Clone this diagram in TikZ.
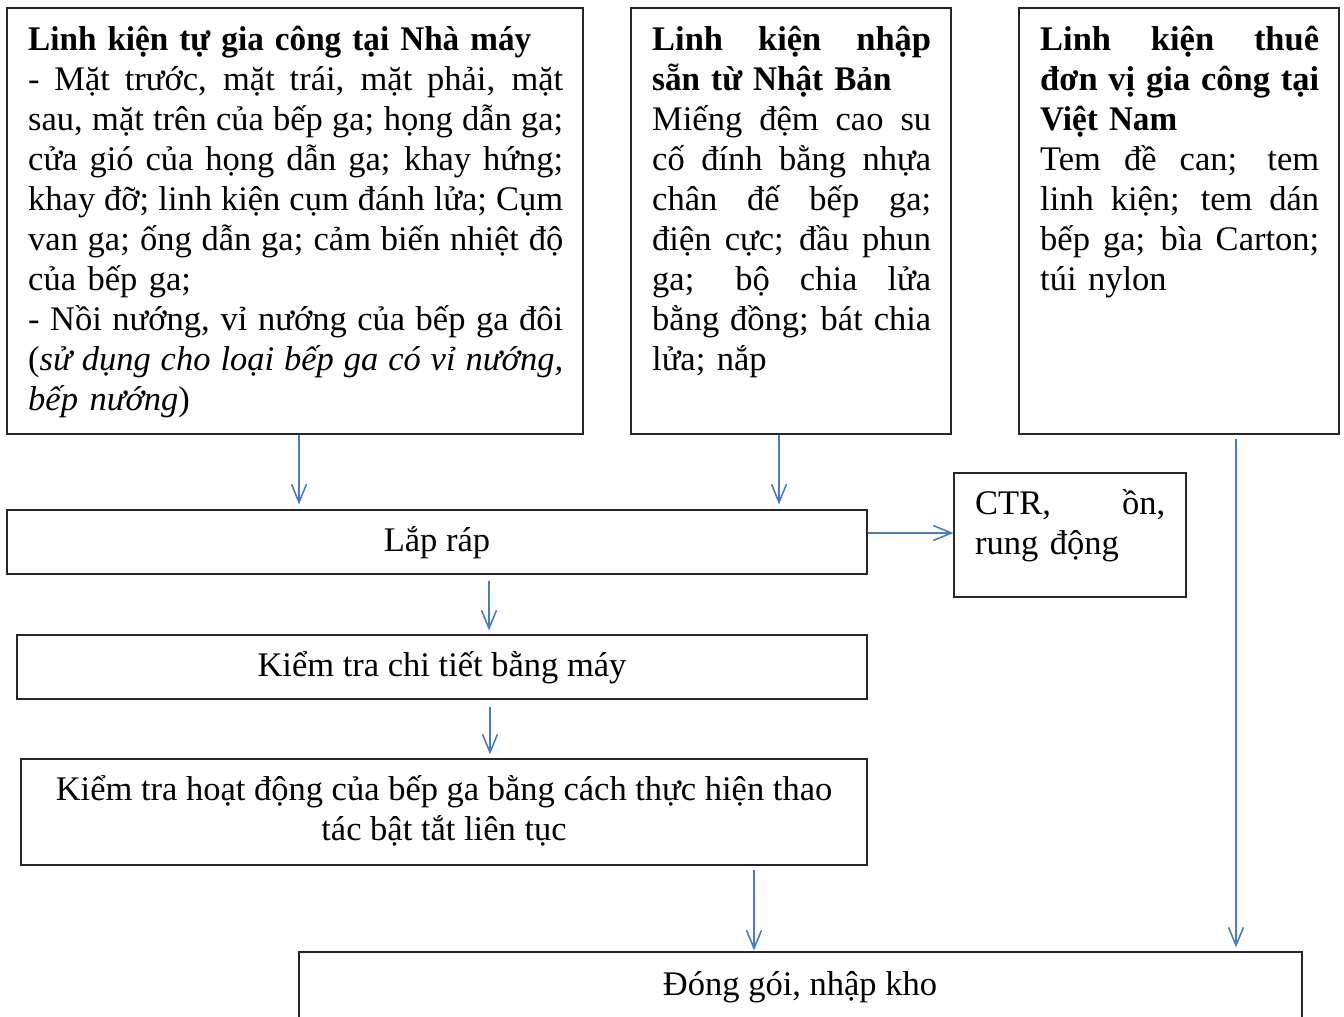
\documentclass[tikz,border=0pt]{standalone}
\usepackage{fontspec}
\setmainfont{Liberation Serif}
\usetikzlibrary{arrows.meta}
\definecolor{arrowblue}{HTML}{4A7EBB}
\newcommand\fsz{\fontsize{34.5pt}{40pt}\selectfont}
\newcommand\jl[2]{\leavevmode{\spaceskip=0.25em plus 1fil minus 0.1em\xspaceskip=\spaceskip\hbox to #1{#2}}}
\newcommand\bx[1]{\scalebox{0.962}[1]{\textbf{#1}}}
\begin{document}
\begin{tikzpicture}[x=1pt,y=-1pt,
  box/.style={draw=black!85, line width=1.2pt, inner sep=0pt},
  txt/.style={inner sep=0pt, anchor=north west, align=left, font=\fsz},
  ctxt/.style={inner sep=0pt, align=center, font=\fsz},
  arr/.style={draw=arrowblue, line width=1.6pt, -{Straight Barb[length=18pt,width=15pt]}}]
\path[use as bounding box] (0,0) rectangle (1344,1017);
\clip (0,0) rectangle (1344,1017);
% top boxes
\node[box, minimum width=576pt, minimum height=426pt] (b1) at (295,221) {};
\node[box, minimum width=320pt, minimum height=426pt] (b2) at (791,221) {};
\node[box, minimum width=320pt, minimum height=426pt] (b3) at (1179,221) {};
\node[txt, text width=540pt] (t1) at (28,22) {\strut\bx{Linh kiện tự gia công tại Nhà máy}\\
\jl{535pt}{- Mặt trước, mặt trái, mặt phải, mặt}\\
\jl{535pt}{sau, mặt trên của bếp ga; họng dẫn ga;}\\
\jl{535pt}{cửa gió của họng dẫn ga; khay hứng;}\\
\jl{535pt}{khay đỡ; linh kiện cụm đánh lửa; Cụm}\\
\jl{535pt}{van ga; ống dẫn ga; cảm biến nhiệt độ}\\
của bếp ga;\\
\jl{535pt}{- Nồi nướng, vỉ nướng của bếp ga đôi}\\
\jl{535pt}{(\textit{sử dụng cho loại bếp ga có vỉ nướng,}}\\
\textit{bếp nướng})};
\node[txt, text width=285pt] (t2) at (652,22) {\strut\jl{279pt}{\textbf{Linh kiện nhập}}\\
\bx{sẵn từ Nhật Bản}\\
\jl{279pt}{Miếng đệm cao su}\\
\jl{279pt}{cố đính bằng nhựa}\\
\jl{279pt}{chân đế bếp ga;}\\
\jl{279pt}{điện cực; đầu phun}\\
\jl{279pt}{ga; bộ chia lửa}\\
\jl{279pt}{bằng đồng; bát chia}\\
lửa; nắp};
\node[txt, text width=285pt] (t3) at (1040,22) {\strut\jl{279pt}{\textbf{Linh kiện thuê}}\\
\jl{279pt}{\textbf{đơn vị gia công tại}}\\
\bx{Việt Nam}\\
\jl{279pt}{Tem đề can; tem}\\
\jl{279pt}{linh kiện; tem dán}\\
\jl{279pt}{bếp ga; bìa Carton;}\\
túi nylon};
% process boxes
\node[box, minimum width=860pt, minimum height=64pt, font=\fsz, text height=26pt, text depth=8pt] (lr) at (437,542) {Lắp ráp};
\node[box, minimum width=232pt, minimum height=124pt] (ctr) at (1070,535) {};
\node[txt, text width=195pt] (tc) at (975,486) {\strut\jl{190pt}{CTR, ồn,}\\ rung động};
\node[box, minimum width=850pt, minimum height=64pt, font=\fsz, text height=26pt, text depth=8pt] (kt1) at (442,667) {Kiểm tra chi tiết bằng máy};
\node[box, minimum width=846pt, minimum height=106pt] (kt2) at (444,812) {};
\node[ctxt] (tk2) at (444,812) {\strut Kiểm tra hoạt động của bếp ga bằng cách thực hiện thao\\ tác bật tắt liên tục\strut};
\node[box, minimum width=1003pt, minimum height=120pt] (dg) at (800.5,1012) {};
\node[ctxt, anchor=base] (tdg) at (800,995) {Đóng gói, nhập kho};
% arrows
\coordinate (xa) at (299,0);
\coordinate (xb) at (779,0);
\coordinate (xc) at (489,0);
\coordinate (xd) at (490,0);
\coordinate (xe) at (754,0);
\coordinate (xf) at (1236,0);
\draw[arr] (b1.south -| xa) -- ([yshift=5pt]lr.north -| xa);
\draw[arr] (b2.south -| xb) -- ([yshift=5pt]lr.north -| xb);
\draw[arr] (lr.east |- 0,533) -- (ctr.west |- 0,533);
\draw[arr] ([yshift=-6pt]lr.south -| xc) -- ([yshift=4pt]kt1.north -| xc);
\draw[arr] ([yshift=-7pt]kt1.south -| xd) -- ([yshift=4pt]kt2.north -| xd);
\draw[arr] ([yshift=-4pt]kt2.south -| xe) -- ([yshift=1pt]dg.north -| xe);
\draw[arr] ([yshift=-4pt]b3.south -| xf) -- ([yshift=4pt]dg.north -| xf);
\end{tikzpicture}
\end{document}
